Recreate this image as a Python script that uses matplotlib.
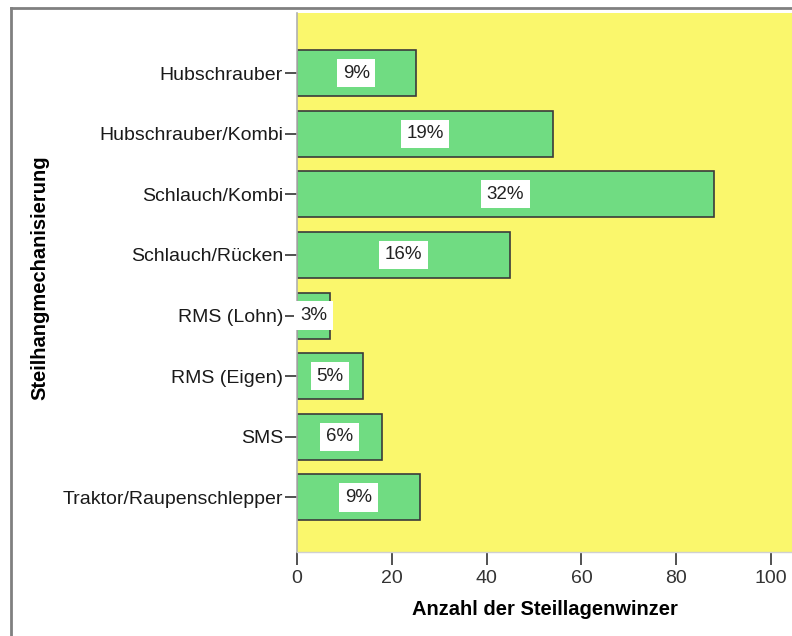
import matplotlib
matplotlib.use("Agg")
import matplotlib.pyplot as plt
from matplotlib.lines import Line2D

plt.rcParams['font.family'] = ['Liberation Sans', 'DejaVu Sans']

categories = ["Hubschrauber", "Hubschrauber/Kombi", "Schlauch/Kombi", "Schlauch/Rücken",
              "RMS (Lohn)", "RMS (Eigen)", "SMS", "Traktor/Raupenschlepper"]
counts = [25, 54, 88, 45, 7, 14, 18, 26]
percent_labels = ["9%", "19%", "32%", "16%", "3%", "5%", "6%", "9%"]
xticks = [0, 20, 40, 60, 80, 100]

W, H = 792, 636
fig = plt.figure(figsize=(W / 100, H / 100), dpi=100)
fig.patch.set_facecolor("white")

left, right, top, bottom = 297, 792, 13, 552
ax = fig.add_axes([left / W, 1 - bottom / H, (right - left) / W, (bottom - top) / H])
ax.set_facecolor("#FAF76C")

n = len(categories)
ypos = list(range(n - 1, -1, -1))
ax.barh(ypos, counts, height=0.76, color="#70DC82", edgecolor="#3a3a3a", linewidth=1.2, zorder=2)

for y, c, lab in zip(ypos, counts, percent_labels):
    ax.text(c / 2, y, lab, ha="center", va="center", fontsize=13.5, color="#222222", zorder=3,
            bbox=dict(boxstyle="square,pad=0.3", facecolor="white", edgecolor="none"))

ax.set_xlim(0, (right - left) / 4.74)
ax.set_ylim(-0.9, n - 1 + 0.99)
ax.set_yticks(ypos)
ax.set_yticklabels(categories, fontsize=14, color="#1a1a1a")
ax.set_xticks(xticks)
ax.set_xticklabels([str(t) for t in xticks], fontsize=14, color="#333333")
ax.tick_params(axis="y", direction="out", length=9, width=1.2, color="#333333", pad=1)
ax.tick_params(axis="x", direction="out", length=9, width=1.2, color="#333333", pad=4)

for s in ["top", "right"]:
    ax.spines[s].set_visible(False)
ax.spines["left"].set_color("#b0b0b0")
ax.spines["bottom"].set_color("#d0d0d0")
ax.spines["left"].set_linewidth(1.2)
ax.spines["bottom"].set_linewidth(1.0)

ax.set_xlabel("Anzahl der Steillagenwinzer", fontsize=14.5, fontweight="bold", labelpad=9)
fig.text(40 / W, 1 - 278 / H, "Steilhangmechanisierung", rotation=90, fontsize=14.5,
         fontweight="bold", ha="center", va="center")

# outer frame (top and left edges visible)
fig.add_artist(Line2D([10.5 / W, 1.0], [1 - 8 / H, 1 - 8 / H], color="#808080", linewidth=2, transform=fig.transFigure))
fig.add_artist(Line2D([10.5 / W, 10.5 / W], [0.0, 1 - 8 / H], color="#808080", linewidth=2, transform=fig.transFigure))

fig.savefig("out.png", dpi=100)
